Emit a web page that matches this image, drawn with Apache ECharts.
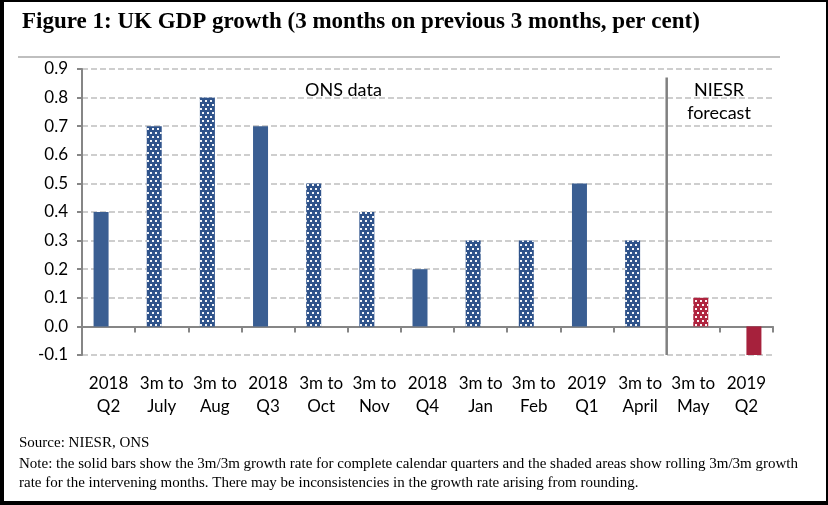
<!DOCTYPE html>
<html>
<head>
<meta charset="utf-8">
<script src="https://cdn.jsdelivr.net/npm/echarts@6/dist/echarts.min.js"></script>
<style>
html,body{margin:0;padding:0;background:#fff;}
#wrap{position:relative;width:828px;height:505px;}
#chart{width:828px;height:505px;}
#frame{position:absolute;left:0;top:0;width:828px;height:505px;box-sizing:border-box;border-style:solid;border-color:#000;border-width:2px 2px 4px 4px;pointer-events:none;}
</style>
</head>
<body>
<div id="wrap"><div id="chart"></div><div id="frame"></div></div>
<script>
const categories = ['2018\nQ2','3m to\nJuly','3m to\nAug','2018\nQ3','3m to\nOct','3m to\nNov','2018\nQ4','3m to\nJan','3m to\nFeb','2019\nQ1','3m to\nApril','3m to\nMay','2019\nQ2'];
const onsValues = [0.4, 0.7, 0.8, 0.7, 0.5, 0.4, 0.2, 0.3, 0.3, 0.5, 0.3, null, null];
const forecastValues = [null, null, null, null, null, null, null, null, null, null, null, 0.1, -0.1];
const quarterFlags = [true, false, false, true, false, false, true, false, false, true, false, false, true];
const yTicks = [-0.1, 0.0, 0.1, 0.2, 0.3, 0.4, 0.5, 0.6, 0.7, 0.8, 0.9];
const separatorX = [11, 11];
const separatorY = [0.87, -0.1];

const BLUE = '#3a5e92';
const BLUE_DOT = '#2f538b';
const RED = '#a6213c';
const RED_DOT = '#b0243f';

const dotDecal = {
  symbol: 'rect',
  symbolSize: 1,
  color: 'rgba(255,255,255,0.95)',
  dashArrayX: [[1.5, 2.5], [0, 2, 1.5, 0.5]],
  dashArrayY: [1.5, 1.2],
  rotation: 0
};

function buildData(values, solidColor, dotColor) {
  return values.map((v, i) => {
    if (v === null) return '-';
    if (quarterFlags[i]) return { value: v, itemStyle: { color: solidColor } };
    return { value: v, itemStyle: { color: dotColor, decal: dotDecal } };
  });
}

const chart = echarts.init(document.getElementById('chart'), null, { renderer: 'canvas' });
const axisFont = 'Lato, "Noto Sans", sans-serif';
const noteFont = '15px "Liberation Serif", serif';

chart.setOption({
  animation: false,
  backgroundColor: '#fff',
  title: {
    text: 'Figure 1: UK GDP growth (3 months on previous 3 months, per cent)',
    left: 17, top: 6,
    textStyle: { fontFamily: '"Liberation Serif", serif', fontWeight: 'bold', fontSize: 23, color: '#000' }
  },
  grid: { left: 82, right: 55, top: 69, bottom: 150, containLabel: false },
  xAxis: [{
    type: 'category',
    data: categories,
    axisLine: { onZero: true, lineStyle: { color: '#868686', width: 2 } },
    axisTick: { show: true, length: 6, lineStyle: { color: '#868686', width: 2 } },
    axisLabel: { margin: 17, fontFamily: axisFont, fontSize: 17, color: '#000', lineHeight: 23, interval: 0 },
    splitLine: { show: false }
  }, {
    type: 'value', min: 0, max: 13, show: false
  }],
  yAxis: {
    type: 'value',
    min: yTicks[0], max: yTicks[yTicks.length - 1], interval: 0.1,
    axisLine: { show: true, lineStyle: { color: '#868686', width: 2 } },
    axisTick: { show: true, length: 5, lineStyle: { color: '#868686', width: 2 } },
    axisLabel: { margin: 14, fontFamily: axisFont, fontSize: 17, color: '#000', formatter: v => v.toFixed(1) },
    splitLine: { show: true, lineStyle: { color: '#bfbfbf', width: 1.5, type: [6, 3] } }
  },
  series: [{
    name: 'ONS data', type: 'bar', barWidth: 15, barGap: '0%',
    data: buildData(onsValues, BLUE, BLUE_DOT)
  }, {
    name: 'NIESR forecast', type: 'bar', barWidth: 15, barGap: '0%',
    data: buildData(forecastValues, RED, RED_DOT)
  }, {
    name: 'separator', type: 'line', xAxisIndex: 1, symbol: 'none', silent: true,
    lineStyle: { color: '#808080', width: 2.5 },
    data: separatorX.map((x, i) => [x, separatorY[i]]),
    z: 5
  }],
  graphic: [
    { type: 'line', shape: { x1: 18, y1: 57, x2: 780, y2: 57 }, style: { stroke: '#bfbfbf', lineWidth: 2 } },
    { type: 'text', left: 305, top: 81, style: { text: 'ONS data', font: '18px ' + axisFont, fill: '#000' } },
    { type: 'text', x: 719, y: 79, style: { text: 'NIESR\nforecast', font: '18px ' + axisFont, fill: '#000', textAlign: 'center', lineHeight: 23 } },
    { type: 'text', left: 19, top: 436, style: { text: 'Source: NIESR, ONS', font: noteFont, fill: '#000' } },
    { type: 'text', left: 19, top: 457, style: { text: 'Note: the solid bars show the 3m/3m growth rate for complete calendar quarters and the shaded areas show rolling 3m/3m growth', font: noteFont, fill: '#000' } },
    { type: 'text', left: 19, top: 476, style: { text: 'rate for the intervening months. There may be inconsistencies in the growth rate arising from rounding.', font: noteFont, fill: '#000' } }
  ]
});
</script>
</body>
</html>
